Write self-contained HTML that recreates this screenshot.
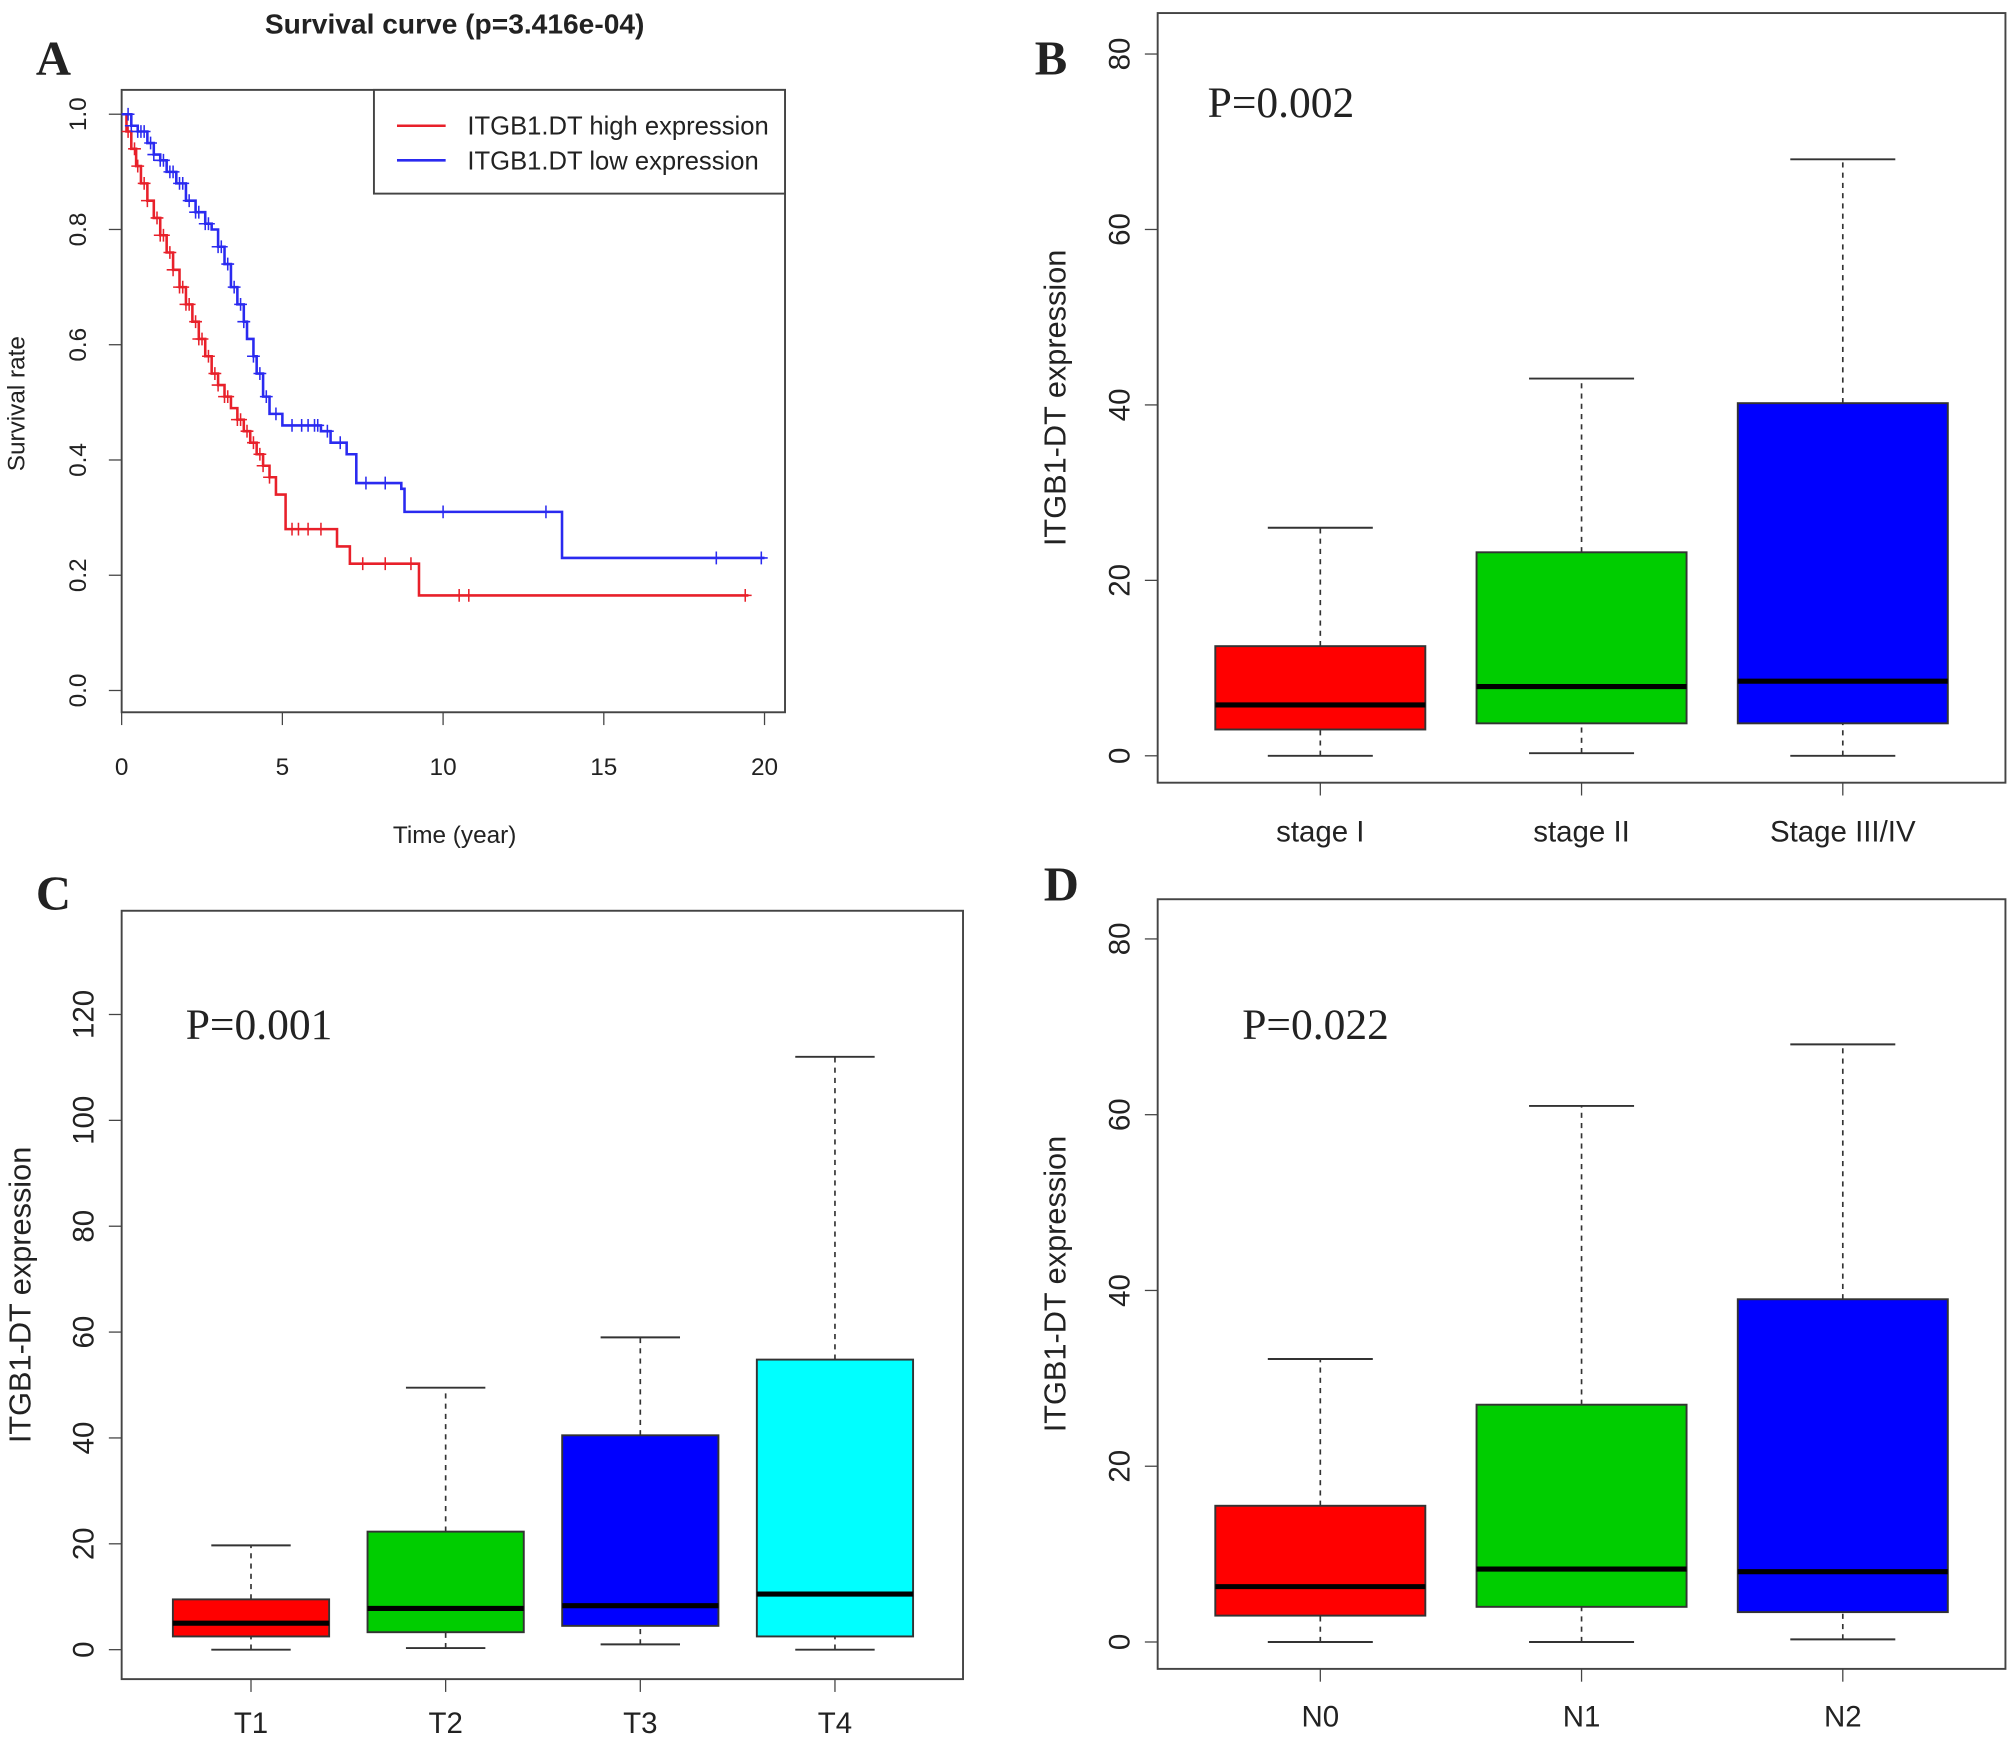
<!DOCTYPE html>
<html><head><meta charset="utf-8"><style>
html,body{margin:0;padding:0;background:#fff}
svg{display:block}
text{font-family:"Liberation Sans",sans-serif;fill:#222}
.serif{font-family:"Liberation Serif",serif}
</style></head><body>
<svg id="fig" width="2008" height="1737" viewBox="0 0 1568 1356" xmlns="http://www.w3.org/2000/svg">
<rect width="1568" height="1356" fill="#fff"/>
</svg>
<script>
// ---------- Data ----------
const survYTicks = [0, 0.2, 0.4, 0.6, 0.8, 1.0];
const survXTicks = [0, 5, 10, 15, 20];
const highT = [0,0.15,0.3,0.45,0.6,0.8,1,1.2,1.4,1.6,1.8,2.0,2.2,2.4,2.6,2.8,3.0,3.2,3.4,3.6,3.8,4.0,4.2,4.4,4.6,4.8,5.1,6.6,6.7,7.1,9.2,9.25,19.5];
const highS = [1,0.97,0.94,0.91,0.88,0.85,0.82,0.79,0.76,0.73,0.70,0.67,0.64,0.61,0.58,0.55,0.53,0.51,0.49,0.47,0.45,0.43,0.41,0.39,0.37,0.34,0.28,0.28,0.25,0.22,0.22,0.165,0.165];
const lowT = [0,0.3,0.5,0.8,1,1.2,1.4,1.7,2,2.3,2.6,2.8,3.0,3.2,3.4,3.6,3.8,3.9,4.1,4.2,4.4,4.6,5,6.2,6.5,7,7.3,8.7,8.8,13.6,13.7,20];
const lowS = [1,0.98,0.97,0.95,0.93,0.92,0.90,0.88,0.85,0.83,0.81,0.80,0.77,0.74,0.70,0.67,0.64,0.61,0.58,0.55,0.51,0.48,0.46,0.45,0.43,0.41,0.36,0.35,0.31,0.31,0.23,0.23];
const highCens = [0.2,0.4,0.5,0.7,0.8,1.1,1.2,1.3,1.5,1.6,1.8,1.9,2.0,2.1,2.3,2.4,2.5,2.7,2.9,3.0,3.2,3.3,3.6,3.7,3.9,4.1,4.3,4.4,4.6,5.3,5.5,5.8,6.2,7.5,8.2,9.0,10.5,10.8,19.4];
const lowCens = [0.2,0.3,0.5,0.6,0.7,0.9,1.0,1.2,1.3,1.5,1.6,1.8,1.9,2.1,2.3,2.4,2.6,2.7,3.0,3.1,3.3,3.5,3.7,3.8,4.1,4.3,4.5,4.8,5.3,5.6,5.8,6.0,6.1,6.4,6.8,7.6,8.2,10,13.2,18.5,19.9];

const stageCats = ["stage I","stage II","Stage III/IV"];
const stageStats = [[0,3,5.8,12.5,26],[0.3,3.7,7.9,23.2,43],[0,3.7,8.5,40.2,68]];
const tCats = ["T1","T2","T3","T4"];
const tStats = [[0,2.5,5,9.5,19.7],[0.3,3.3,7.8,22.3,49.5],[1,4.5,8.3,40.5,59],[0,2.5,10.5,54.8,112]];
const nCats = ["N0","N1","N2"];
const nStats = [[0,3,6.3,15.5,32.2],[0,4,8.3,27,61],[0.3,3.4,8,39,68]];
const ticks80 = [0,20,40,60,80];
const ticks120 = [0,20,40,60,80,100,120];

// ---------- Helpers ----------
const NS="http://www.w3.org/2000/svg";
const svg=document.getElementById('fig');
function el(tag,attrs,parent,txt){const e=document.createElementNS(NS,tag);for(const k in attrs)e.setAttribute(k,attrs[k]);if(txt!==undefined)e.textContent=txt;(parent||svg).appendChild(e);return e;}

// ---------- Panel A ----------
const gA=el('g',{});


const ax=t=>95+t*(597-95)/20, ay=s=>539-s*450;
el('rect',{x:95,y:70,width:518,height:486,fill:'none',stroke:'#444','stroke-width':1.5},gA);
survXTicks.forEach(t=>{el('line',{x1:ax(t),x2:ax(t),y1:556,y2:566,stroke:'#444'},gA);
 const tx=el('text',{x:ax(t),y:605,'font-size':19,'text-anchor':'middle'},gA,String(t));
 });
survYTicks.forEach(s=>{el('line',{x1:85,x2:95,y1:ay(s),y2:ay(s),stroke:'#444'},gA);
 const tx=el('text',{x:0,y:0,'font-size':19,'text-anchor':'middle',transform:`translate(67,${ay(s)}) rotate(-90)`},gA,s.toFixed(1));
 });
function stepPath(T,S){let d=`M${ax(T[0])},${ay(S[0])}`;for(let i=1;i<T.length;i++){d+=` H${ax(T[i])} V${ay(S[i])}`;}return d;}
function survAt(T,S,t){let s=S[0];for(let i=0;i<T.length;i++){if(T[i]<=t)s=S[i];}return s;}
[[highT,highS,highCens,'#e8202a','high-expression-curve'],[lowT,lowS,lowCens,'#2a2af0','low-expression-curve']].forEach(([T,S,C,col,nm])=>{
 const p=el('path',{d:stepPath(T,S),fill:'none',stroke:col,'stroke-width':2},gA);
 
 C.forEach(c=>{const x=ax(c),y=ay(survAt(T,S,c));el('path',{d:`M${x-5},${y}H${x+5}M${x},${y-5}V${y+5}`,stroke:col,'stroke-width':1.2},gA);});
});
const leg=el('g',{},gA);

el('rect',{x:292,y:70,width:321,height:81,fill:'#fff',stroke:'#444','stroke-width':1.5},leg);
el('line',{x1:310,x2:348,y1:98,y2:98,stroke:'#e8202a','stroke-width':2},leg);
el('line',{x1:310,x2:348,y1:125,y2:125,stroke:'#2a2af0','stroke-width':2},leg);
el('text',{x:365,y:105,'font-size':20},leg,'ITGB1.DT high expression');
el('text',{x:365,y:132,'font-size':20},leg,'ITGB1.DT low expression');
let t=el('text',{x:355,y:26,'font-size':22,'font-weight':'bold','text-anchor':'middle'},gA,'Survival curve (p=3.416e-04)');

t=el('text',{x:355,y:658,'font-size':19,'text-anchor':'middle'},gA,'Time (year)');

t=el('text',{x:0,y:0,'font-size':19,'text-anchor':'middle',transform:'translate(19,315) rotate(-90)'},gA,'Survival rate');


// ---------- Boxplot panels ----------
function boxPanel(name,frame,y0px,ymaxpx,ymaxv,yTicks,cats,stats,xs,bw,cw,colors,pText,pPos,labY,ylabX){
 const g=el('g',{});
 
 const sy=v=>y0px-v*(y0px-ymaxpx)/ymaxv;
 el('rect',{x:frame[0],y:frame[1],width:frame[2]-frame[0],height:frame[3]-frame[1],fill:'none',stroke:'#444','stroke-width':1.5},g);
 yTicks.forEach(v=>{el('line',{x1:frame[0]-10,x2:frame[0],y1:sy(v),y2:sy(v),stroke:'#444'},g);
  const tx=el('text',{x:0,y:0,'font-size':23,'text-anchor':'middle',transform:`translate(${frame[0]-22},${sy(v)}) rotate(-90)`},g,String(v));
  });
 cats.forEach((c,i)=>{const x=xs[i],s=stats[i];
  el('line',{x1:x,x2:x,y1:frame[3],y2:frame[3]+10,stroke:'#444'},g);
  const lb=el('text',{x:x,y:labY,'font-size':23,'text-anchor':'middle'},g,c);
  
  el('line',{x1:x,x2:x,y1:sy(s[0]),y2:sy(s[1]),stroke:'#333','stroke-dasharray':'4,4','stroke-width':1.3},g);
  el('line',{x1:x,x2:x,y1:sy(s[3]),y2:sy(s[4]),stroke:'#333','stroke-dasharray':'4,4','stroke-width':1.3},g);
  el('line',{x1:x-cw/2,x2:x+cw/2,y1:sy(s[0]),y2:sy(s[0]),stroke:'#333','stroke-width':1.5},g);
  el('line',{x1:x-cw/2,x2:x+cw/2,y1:sy(s[4]),y2:sy(s[4]),stroke:'#333','stroke-width':1.5},g);
  const b=el('rect',{x:x-bw/2,y:sy(s[3]),width:bw,height:sy(s[1])-sy(s[3]),fill:colors[i],stroke:'#333','stroke-width':1.5},g);
  
  el('line',{x1:x-bw/2,x2:x+bw/2,y1:sy(s[2]),y2:sy(s[2]),stroke:'#000','stroke-width':4},g);
 });
 const p=el('text',{x:pPos[0],y:pPos[1],'font-size':34,class:'serif'},g,pText);
 
 const yl=el('text',{x:0,y:0,'font-size':24,'text-anchor':'middle',transform:`translate(${ylabX},${(frame[1]+frame[3])/2}) rotate(-90)`},g,'ITGB1-DT expression');
 
}
boxPanel('panel-b-stage',[904,10,1566,611],590,42,80,ticks80,stageCats,stageStats,[1031,1235,1439],164,82,['#ff0000','#00cd00','#0000ff'],'P=0.002',[943,91],657,832);
boxPanel('panel-c-t-stage',[95,711,752,1311],1288,792,120,ticks120,tCats,tStats,[196,348,500,652],122,62,['#ff0000','#00cd00','#0000ff','#00ffff'],'P=0.001',[145,811],1353,24);
boxPanel('panel-d-n-stage',[904,702,1566,1303],1282,733,80,ticks80,nCats,nStats,[1031,1235,1439],164,82,['#ff0000','#00cd00','#0000ff'],'P=0.022',[970,811],1348,832);

// ---------- Panel letters ----------
[['A',28,58],['B',808,58],['C',28,710],['D',815,703]].forEach(([l,x,y])=>{
 const e=el('text',{x:x,y:y,'font-size':38,'font-weight':'bold',class:'serif'},svg,l);
 
});
</script>
</body></html>
